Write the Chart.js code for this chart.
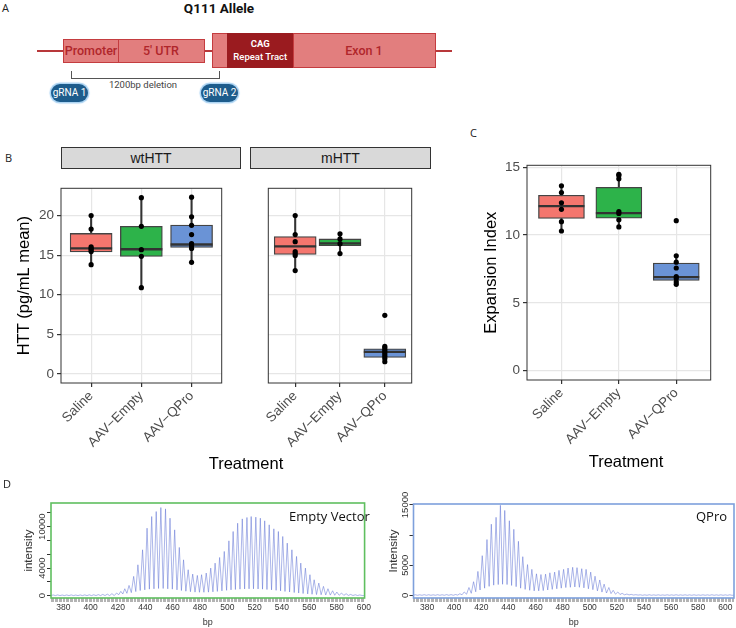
<!DOCTYPE html>
<html>
<head>
<meta charset="utf-8">
<script src="https://cdn.jsdelivr.net/npm/chart.js@4.4.1/dist/chart.umd.min.js"></script>
<style>
  body { margin: 0; background: #fff; }
  #page { position: relative; width: 736px; height: 628px; overflow: hidden; font-family: 'Liberation Sans', Arial, sans-serif; }
  .abs { position: absolute; }
  canvas { position: absolute; }
  .letter { position: absolute; font: 11px 'Open Sans', sans-serif; color: #222; }
  .seg { position: absolute; box-sizing: border-box; border: 1.5px solid #c43c3f; background: #e27e7e;
         color: #b0262b; display: flex; align-items: center; justify-content: center;
         font: 500 12.5px Roboto, sans-serif; }
  .pill { position: absolute; width: 37px; height: 18px; border-radius: 9px; background: #1d5c8c;
          box-shadow: 0 0 1px 1.5px #a9d2f2; color: #fff; font: 10px Roboto, sans-serif;
          display: flex; align-items: center; justify-content: center; }
  .strip { position: absolute; box-sizing: border-box; border: 1px solid #333; background: #d9d9d9;
           height: 22px; display: flex; align-items: center; justify-content: center;
           font-size: 14px; color: #1a1a1a; }
  .axtitle { position: absolute; font-size: 16.5px; color: #000; text-align: center; width: 120px; }
  .tag { position: absolute; font: 13px 'Open Sans', sans-serif; color: #111; }
</style>
</head>
<body>
<div id="page">
  <!-- Panel A : allele schematic -->
  <div class="letter" style="left:2px;top:0px;">A</div>
  <div class="abs" style="left:159px;top:0px;width:120px;text-align:center;font:bold 13.5px Roboto, sans-serif;color:#111;">Q111 Allele</div>
  <div class="abs" style="left:37px;top:50px;width:415px;height:1.5px;background:#b8383a;"></div>
  <div class="seg" style="left:63px;top:39px;width:56px;height:23.5px;">Promoter</div>
  <div class="seg" style="left:117.5px;top:39px;width:87px;height:23.5px;">5' UTR</div>
  <div class="seg" style="left:212px;top:33px;width:16px;height:34.5px;"></div>
  <div class="seg" style="left:226.5px;top:33px;width:67.5px;height:34.5px;background:#9a1b1f;border-color:#9a1b1f;color:#fff;flex-direction:column;font-size:9.5px;line-height:13px;">
    <span style="font-weight:bold">CAG</span><span>Repeat Tract</span></div>
  <div class="seg" style="left:292.5px;top:33px;width:143px;height:34.5px;">Exon 1</div>
  <div class="abs" style="left:70.5px;top:70.5px;width:147px;height:7px;border:1.2px solid #555;border-top:none;"></div>
  <div class="abs" style="left:93px;top:79px;width:100px;text-align:center;font:9.5px Roboto, sans-serif;color:#444;">1200bp deletion</div>
  <div class="pill" style="left:51px;top:83.5px;">gRNA 1</div>
  <div class="pill" style="left:201px;top:83.5px;">gRNA 2</div>

  <!-- Panel B : HTT levels -->
  <div class="letter" style="left:5px;top:150px;">B</div>
  <div class="strip" style="left:61px;top:147px;width:180px;">wtHTT</div>
  <div class="strip" style="left:250px;top:147px;width:181px;">mHTT</div>
  <canvas id="wtChart" width="245" height="290" style="left:0px;top:165px;"></canvas>
  <canvas id="mChart" width="190" height="290" style="left:245px;top:165px;"></canvas>
  <div class="axtitle" style="left:186px;top:454px;">Treatment</div>

  <!-- Panel C : expansion index -->
  <div class="letter" style="left:470px;top:125px;">C</div>
  <canvas id="eiChart" width="296" height="315" style="left:440px;top:140px;"></canvas>
  <div class="axtitle" style="left:566px;top:452px;">Treatment</div>

  <!-- Panel D : fragment traces -->
  <div class="letter" style="left:3px;top:476px;">D</div>
  <canvas id="emptyTrace" width="372" height="138" style="left:0px;top:490px;"></canvas>
  <canvas id="qproTrace" width="364" height="138" style="left:372px;top:490px;"></canvas>
  <div class="tag" style="left:289px;top:507px;">Empty Vector</div>
  <div class="tag" style="left:696px;top:507px;">QPro</div>
</div>

<script>
const SANS = "'Liberation Sans', Arial, sans-serif";
const NARROW = "'Liberation Sans Narrow', 'Liberation Sans', Arial, sans-serif";
Chart.defaults.font.family = SANS;

// Treatment groups (shared by B and C)
const treatments = ['Saline', 'AAV\u2212Empty', 'AAV\u2212QPro'];
const treatmentColors = ['#F4766E', '#2DB34A', '#6A93D6'];

// Panel B, wtHTT facet
const httTicks = [0, 5, 10, 15, 20];
const wtPoints = [
  [20.0, 18.3, 16.05, 15.85, 15.67, 15.45, 13.8],
  [22.26, 18.65, 15.7, 14.86, 10.9],
  [22.33, 19.85, 18.77, 17.6, 16.45, 16.2, 15.85, 14.1]
];
const wtLow = [13.8, 10.9, 14.1];
const wtQ1 = [15.4, 14.85, 15.98];
const wtMed = [15.85, 15.75, 16.35];
const wtQ3 = [17.75, 18.65, 18.8];
const wtHigh = [20.0, 22.26, 22.33];

// Panel B, mHTT facet
const mPoints = [
  [20.0, 17.6, 16.7, 15.45, 15.2, 14.95, 13.05],
  [17.7, 17.05, 16.45, 15.2],
  [7.4, 3.47, 3.28, 3.01, 2.78, 2.51, 2.24, 1.93, 1.55]
];
const mLow = [13.05, 15.2, 1.55];
const mQ1 = [15.1, 16.2, 2.09];
const mMed = [16.1, 16.5, 2.78];
const mQ3 = [17.35, 17.05, 3.16];
const mHigh = [20.0, 17.7, 3.47];

// Panel C, expansion index
const eiTicks = [0, 5, 10, 15];
const eiPoints = [
  [13.64, 13.14, 12.38, 11.9, 10.99, 10.3],
  [14.49, 14.4, 14.15, 11.74, 11.6, 11.13, 10.6],
  [11.06, 8.47, 8.0, 7.57, 6.94, 6.79, 6.54, 6.36]
];
const eiLow = [10.3, 10.6, 6.36];
const eiQ1 = [11.22, 11.24, 6.65];
const eiMed = [12.14, 11.62, 6.9];
const eiQ3 = [12.94, 13.52, 7.93];
const eiHigh = [13.64, 14.49, 8.47];

// Panel D, Empty Vector trace: peak positions (bp), peak heights, following trough heights
const emptyBp = [372.6, 375.9, 379.2, 382.5, 385.8, 389.1, 392.4, 395.7, 399.0, 402.3, 405.6, 408.9, 412.2, 415.6,
  419.0, 422.1, 425.0, 428.1, 431.5, 434.6, 438.0, 441.3, 444.7, 448.0, 451.4, 454.8, 458.1, 461.5, 464.9,
  468.0, 471.4, 474.7, 478.1, 481.2, 484.6, 487.9, 491.1, 494.4, 497.8, 501.2, 504.3, 507.6, 511.0, 514.4,
  517.5, 520.9, 524.2, 527.4, 530.7, 534.1, 537.4, 540.6, 543.9, 547.3, 550.7, 553.8, 557.2, 560.5, 563.6,
  567.0, 570.4, 573.7, 577.1, 580.2, 583.6, 587.0, 590.3, 593.7, 597.0];
const emptyPeak = [110, 120, 100, 110, 120, 100, 110, 120, 130, 140, 160, 190, 230, 300,
  390, 630, 1010, 1490, 2800, 4480, 6650, 9780, 11470, 12190, 12770, 12580, 11230, 9540, 6990,
  5200, 3760, 3130, 2940, 3040, 3280, 4000, 4720, 5540, 6410, 7950, 9300, 10500, 11130, 11330,
  11470, 11380, 11230, 10850, 10270, 9690, 9300, 8580, 7620, 6650, 5690, 4720, 4000, 3040, 2310,
  1830, 1350, 1010, 720, 530, 390, 290, 190, 140, 110];
const emptyTrough = [20, 20, 20, 20, 20, 20, 20, 20, 20, 20, 20, 20, 20, 20,
  150, 250, 350, 450, 600, 750, 850, 950, 1000, 1050, 1050, 1000, 950, 850, 750,
  650, 580, 520, 500, 500, 520, 560, 620, 700, 780, 850, 900, 950, 980, 1000,
  1000, 980, 950, 900, 850, 780, 700, 620, 540, 460, 390, 320, 260, 210, 170,
  140, 110, 90, 70, 60, 50, 40, 30, 30, 30];
const emptyYTicks = [0, 2000, 4000, 6000, 8000, 10000, 12000];
const emptyYLabels = [0, 4000, 10000];

// Panel D, QPro trace
const qproBp = [371.3, 374.6, 377.9, 381.2, 384.5, 387.8, 391.1, 394.4, 397.7,
  401.0, 404.2, 407.4, 410.9, 414.3, 417.5, 420.7, 424.2, 427.4, 430.9, 434.1, 437.3, 440.7, 444.0,
  447.4, 450.6, 454.1, 457.3, 460.7, 464.0, 467.4, 470.6, 474.1, 477.3, 480.7, 484.0, 487.4, 490.6,
  494.1, 497.3, 500.7, 503.9, 507.4, 510.6, 514.1, 517.3, 520.7, 523.9, 527.4, 530.6, 534.0,
  537.3, 540.6, 543.9, 547.2, 550.5, 553.8, 557.1, 560.4, 563.7, 567.0, 570.3, 573.6, 576.9, 580.2,
  583.5, 586.8, 590.1, 593.4, 596.7, 600.0, 603.3];
const qproPeak = [110, 100, 120, 110, 100, 120, 110, 130, 140,
  150, 280, 570, 1310, 2270, 3980, 6590, 9260, 11810, 12950, 14940, 14090, 12380, 10960,
  8970, 6420, 5110, 4320, 3580, 3460, 3520, 3750, 3860, 4150, 4320, 4540, 4660, 4600,
  4430, 4320, 3860, 3180, 2560, 1870, 1310, 850, 570, 340, 230, 170, 120,
  100, 90, 110, 90, 100, 80, 100, 90, 110, 90, 100, 90, 100, 80,
  100, 90, 110, 90, 100, 90, 100];
const qproTrough = [20, 20, 20, 20, 20, 20, 20, 20, 20,
  50, 100, 200, 350, 600, 900, 1200, 1500, 1700, 1800, 1850, 1800, 1650, 1450,
  1200, 1000, 850, 750, 750, 800, 900, 1000, 1100, 1200, 1300, 1350, 1400, 1350,
  1250, 1100, 950, 750, 550, 400, 300, 200, 150, 100, 80, 60, 50,
  20, 20, 20, 20, 20, 20, 20, 20, 20, 20, 20, 20, 20, 20,
  20, 20, 20, 20, 20, 20, 20];
const qproYTicks = [0, 5000, 10000, 15000];
const qproYLabels = [0, 5000, 15000];

const bpLabels = [380, 400, 420, 440, 460, 480, 500, 520, 540, 560, 580, 600];
const traceBaseline = 30;

// Draws a rectangle around the plotting area
const panelBorder = {
  id: 'panelBorder',
  afterDraw(chart, args, opts) {
    const { ctx, chartArea: a } = chart;
    ctx.save();
    ctx.strokeStyle = opts.color;
    ctx.lineWidth = opts.width;
    ctx.strokeRect(a.left, a.top, a.right - a.left, a.bottom - a.top);
    ctx.restore();
  }
};

// Vertical (rotated) y tick labels, as in base R plots
const sideLabels = {
  id: 'sideLabels',
  afterDraw(chart, args, opts) {
    const s = chart.scales.y;
    const ctx = chart.ctx;
    ctx.save();
    ctx.fillStyle = '#333';
    ctx.font = opts.font;
    ctx.textAlign = 'center';
    ctx.textBaseline = 'alphabetic';
    opts.values.forEach(v => {
      ctx.save();
      ctx.translate(s.right - 6, s.getPixelForValue(v));
      ctx.rotate(-Math.PI / 2);
      ctx.fillText(String(v), 0, 0);
      ctx.restore();
    });
    ctx.restore();
  }
};

function boxChart(id, s, o) {
  const pos = treatments.map((t, i) => i + 1);
  const dots = [];
  s.points.forEach((vals, i) => vals.forEach(v => dots.push({ x: pos[i], y: v })));
  const gridColor = '#e6e6e6';

  return new Chart(document.getElementById(id), {
    type: 'bar',
    data: {
      datasets: [
        { type: 'scatter', data: dots, pointRadius: 2.6, pointBackgroundColor: '#000',
          pointBorderWidth: 0, order: 0 },
        { type: 'scatter', data: pos.map((x, i) => ({ x, y: s.med[i] })), pointStyle: 'line',
          pointRadius: o.boxWidth / 2, pointBorderColor: '#333', pointBorderWidth: 2.3, order: 1 },
        { data: pos.map((x, i) => ({ x, y: [s.q1[i], s.q3[i]] })), backgroundColor: treatmentColors,
          borderColor: '#444', borderWidth: 1.3, borderSkipped: false, barThickness: o.boxWidth,
          grouped: false, order: 2 },
        { data: pos.map((x, i) => ({ x, y: [s.low[i], s.high[i]] })), backgroundColor: '#333',
          barThickness: 1.4, grouped: false, order: 3 }
      ]
    },
    options: {
      responsive: false,
      animation: false,
      events: [],
      layout: { padding: o.padding },
      plugins: {
        legend: { display: false },
        tooltip: { enabled: false },
        panelBorder: { color: '#333', width: 1 }
      },
      scales: {
        x: {
          type: 'linear', min: 0.4, max: 3.6, offset: false,
          afterBuildTicks: sc => { sc.ticks = pos.map(v => ({ value: v })); },
          afterFit: sc => { sc.height = o.xHeight; },
          border: { display: false },
          grid: { offset: false, color: gridColor, lineWidth: 1.2, tickLength: 4, tickColor: '#333' },
          ticks: {
            autoSkip: false, minRotation: 45, maxRotation: 45, padding: 1,
            color: '#4d4d4d', font: { size: 13.5 },
            callback: v => treatments[v - 1]
          }
        },
        y: {
          min: o.yMin, max: o.yMax,
          afterBuildTicks: sc => { sc.ticks = o.yTicks.map(v => ({ value: v })); },
          afterFit: sc => { sc.width = o.yWidth; },
          border: { display: false },
          grid: { color: gridColor, lineWidth: 1.2, drawTicks: o.showY, tickLength: 4, tickColor: '#333' },
          ticks: { display: o.showY, padding: 3, color: '#4d4d4d', font: { size: 13.5 } },
          title: {
            display: !!o.yTitle, text: o.yTitle, color: '#000',
            font: { size: 16.5 }, padding: { top: o.titlePad || 0, bottom: 0 }
          }
        }
      }
    },
    plugins: [panelBorder]
  });
}

function traceChart(id, bp, peak, trough, o) {
  const trace = [{ x: o.xMin, y: traceBaseline }];
  bp.forEach((b, i) => {
    trace.push({ x: b, y: peak[i] });
    const next = i + 1 < bp.length ? bp[i + 1] : o.xMax;
    trace.push({ x: (b + next) / 2, y: trough[i] });
  });
  trace.push({ x: o.xMax, y: traceBaseline });

  return new Chart(document.getElementById(id), {
    type: 'line',
    data: {
      datasets: [{
        data: trace, borderColor: 'rgba(95, 115, 212, 0.75)', borderWidth: 0.7,
        pointRadius: 0, tension: 0, fill: false
      }]
    },
    options: {
      responsive: false,
      animation: false,
      events: [],
      layout: { padding: o.padding },
      plugins: {
        legend: { display: false },
        tooltip: { enabled: false },
        panelBorder: { color: o.frame, width: 1.6 },
        sideLabels: { values: o.yLabels, font: '9.5px ' + SANS }
      },
      scales: {
        x: {
          type: 'linear', min: o.xMin, max: o.xMax, offset: false,
          afterBuildTicks: sc => {
            const t = [];
            for (let v = Math.ceil(o.xMin); v <= o.xMax; v++) t.push({ value: v });
            sc.ticks = t;
          },
          afterFit: sc => { sc.height = 30; },
          border: { display: false },
          grid: { drawOnChartArea: false, tickLength: 4, tickColor: '#a0a0a0', tickWidth: 0.8 },
          ticks: {
            autoSkip: false, minRotation: 0, maxRotation: 0, padding: 1,
            color: '#333', font: { family: NARROW, size: 8.5 },
            callback: v => bpLabels.includes(v) ? String(v) : ''
          },
          title: { display: true, text: 'bp', color: '#333', font: { size: 9 }, padding: { top: 0, bottom: 0 } }
        },
        y: {
          min: o.yMin, max: o.yMax,
          afterBuildTicks: sc => { sc.ticks = o.yTicks.map(v => ({ value: v })); },
          afterFit: sc => { sc.width = o.yWidth; },
          border: { display: false },
          grid: { drawOnChartArea: false, tickLength: 4, tickColor: '#333' },
          ticks: { display: false },
          title: {
            display: true, text: o.yTitle, color: '#333',
            font: { size: 11.5 }, padding: { top: o.titlePad, bottom: 0 }
          }
        }
      }
    },
    plugins: [panelBorder, sideLabels]
  });
}

document.addEventListener('DOMContentLoaded', function() {
  boxChart('wtChart',
    { points: wtPoints, low: wtLow, q1: wtQ1, med: wtMed, q3: wtQ3, high: wtHigh },
    { yMin: -1.15, yMax: 23.45, yTicks: httTicks, yWidth: 61, xHeight: 72, boxWidth: 42,
      showY: true, yTitle: 'HTT (pg/mL mean)', titlePad: 15, padding: { top: 4, right: 4, left: 0, bottom: 0 } });

  boxChart('mChart',
    { points: mPoints, low: mLow, q1: mQ1, med: mMed, q3: mQ3, high: mHigh },
    { yMin: -1.15, yMax: 23.45, yTicks: httTicks, yWidth: 5, xHeight: 72, boxWidth: 42,
      showY: false, yTitle: '', padding: { top: 4, right: 4, left: 0, bottom: 0 } });

  boxChart('eiChart',
    { points: eiPoints, low: eiLow, q1: eiQ1, med: eiMed, q3: eiQ3, high: eiHigh },
    { yMin: -0.7, yMax: 15.15, yTicks: eiTicks, yWidth: 87, xHeight: 75, boxWidth: 46,
      showY: true, yTitle: 'Expansion Index', titlePad: 42, padding: { top: 4, right: 11, left: 0, bottom: 0 } });

  traceChart('emptyTrace', emptyBp, emptyPeak, emptyTrough,
    { xMin: 371, xMax: 600.5, yMin: -330, yMax: 13430, yTicks: emptyYTicks, yLabels: emptyYLabels,
      yWidth: 51, yTitle: 'intensity', titlePad: 22, frame: '#5fbf5f',
      padding: { top: 13, right: 3, left: 0, bottom: 0 } });

  traceChart('qproTrace', qproBp, qproPeak, qproTrough,
    { xMin: 370, xMax: 606.4, yMin: -430, yMax: 15160, yTicks: qproYTicks, yLabels: qproYLabels,
      yWidth: 41.5, yTitle: 'Intensity', titlePad: 15, frame: '#7ea0dc',
      padding: { top: 14, right: 2, left: 0, bottom: 0 } });
});
</script>
</body>
</html>
